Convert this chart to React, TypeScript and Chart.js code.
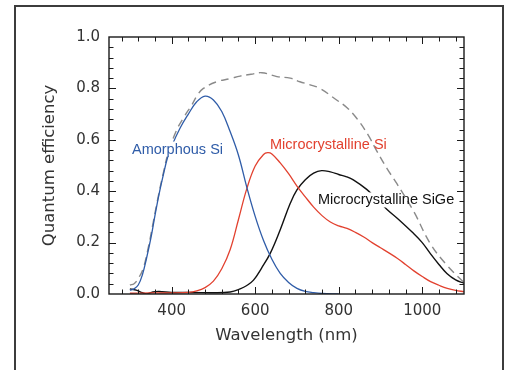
import React, { useEffect, useRef } from "react";
import { Chart, registerables } from "chart.js";

Chart.register(...registerables);

// ---- data ----
const amorphousNm = [300, 310, 320, 330, 340, 350, 360, 370, 380, 390, 400, 420, 440, 460, 480, 500, 520, 540, 560, 580, 600, 620, 640, 660, 680, 700, 720, 740, 760, 800];
const amorphousQE = [0.015, 0.02, 0.035, 0.075, 0.14, 0.215, 0.305, 0.39, 0.463, 0.53, 0.575, 0.645, 0.7, 0.748, 0.77, 0.755, 0.71, 0.632, 0.54, 0.415, 0.302, 0.208, 0.135, 0.08, 0.045, 0.022, 0.01, 0.005, 0.002, 0.0];

const ucSiNm = [300, 350, 400, 440, 460, 480, 500, 520, 540, 560, 580, 600, 620, 630, 640, 660, 680, 700, 720, 740, 760, 780, 800, 820, 840, 860, 880, 900, 920, 940, 960, 980, 1000, 1020, 1040, 1060, 1080, 1100];
const ucSiQE = [0.003, 0.004, 0.004, 0.006, 0.012, 0.025, 0.05, 0.098, 0.172, 0.29, 0.41, 0.498, 0.543, 0.55, 0.545, 0.51, 0.468, 0.42, 0.378, 0.338, 0.305, 0.28, 0.265, 0.255, 0.24, 0.222, 0.2, 0.18, 0.16, 0.139, 0.115, 0.09, 0.068, 0.048, 0.034, 0.022, 0.014, 0.009];

const ucSiGeNm = [300, 315, 330, 340, 355, 370, 400, 450, 500, 540, 564, 580, 596, 615, 636, 660, 684, 700, 720, 740, 759, 780, 800, 819, 835, 867, 890, 915, 940, 979, 1000, 1019, 1040, 1059, 1080, 1100];
const ucSiGeQE = [0.02, 0.015, 0.005, 0.0, 0.008, 0.01, 0.006, 0.006, 0.005, 0.008, 0.02, 0.033, 0.054, 0.1, 0.158, 0.25, 0.353, 0.405, 0.445, 0.47, 0.48, 0.475, 0.465, 0.456, 0.444, 0.407, 0.37, 0.33, 0.295, 0.236, 0.2, 0.158, 0.115, 0.08, 0.055, 0.042];

const totalNm = [300, 310, 320, 332, 344, 356, 368, 380, 392, 412, 430, 448, 462, 476, 508, 540, 564, 590, 616, 652, 684, 707, 730, 755, 795, 820, 843, 870, 890, 915, 939, 980, 1019, 1060, 1100];
const totalQE = [0.035, 0.04, 0.06, 0.1, 0.18, 0.28, 0.38, 0.47, 0.55, 0.638, 0.69, 0.735, 0.775, 0.80, 0.826, 0.838, 0.848, 0.855, 0.861, 0.846, 0.84, 0.826, 0.815, 0.80, 0.755, 0.725, 0.684, 0.62, 0.56, 0.49, 0.43, 0.32, 0.197, 0.11, 0.045];

const seriesNames = ["Amorphous Si", "Microcrystalline Si", "Total", "Microcrystalline SiGe"];

const xTickValues = [400, 600, 800, 1000];
const yTickValues = [0, 0.2, 0.4, 0.6, 0.8, 1.0];
const xTitle = "Wavelength (nm)";
const yTitle = "Quantum efficiency";

// ---- styling / layout ----
const W = 509;
const H = 370;
const BLUE = "#2f5ca8";
const RED = "#e2412f";
const BLACK = "#111111";
const GRAY = "#8a8a8a";
const TEXT = "#333333";

// label anchors (left edge, vertical centre) in data units
const labelAnchors = [
  { name: 0, x: 305, y: 0.564, color: BLUE, box: "top" },
  { name: 1, x: 635.5, y: 0.58, color: RED, box: "none" },
  { name: 3, x: 750.5, y: 0.366, color: BLACK, box: "afterBlack" },
];
const LABEL_FONT = "14.5px 'Liberation Sans', Arial, sans-serif";

function pts(xs: number[], ys: number[]) {
  return xs.map((x, i) => ({ x, y: ys[i] }));
}

function drawLabel(chart: any, a: any, withBox: boolean, withText: boolean) {
  const ctx = chart.ctx;
  const xs = chart.scales.x;
  const ys = chart.scales.y;
  const px = xs.getPixelForValue(a.x);
  const py = ys.getPixelForValue(a.y);
  const text = seriesNames[a.name];
  ctx.save();
  ctx.font = LABEL_FONT;
  const w = ctx.measureText(text).width;
  if (withBox) {
    ctx.fillStyle = "#ffffff";
    ctx.fillRect(px - 1, py - 7.5, w + 2, 15);
  }
  if (withText) {
    ctx.fillStyle = a.color;
    ctx.textBaseline = "middle";
    ctx.textAlign = "left";
    ctx.fillText(text, px, py + 0.5);
  }
  ctx.restore();
}

const decorPlugin = {
  id: "decor",
  beforeDraw(chart: any) {
    const ctx = chart.ctx;
    ctx.save();
    ctx.fillStyle = "#ffffff";
    ctx.fillRect(0, 0, W, H);
    ctx.strokeStyle = "#3c3c3c";
    ctx.lineWidth = 2;
    ctx.strokeRect(15, 6, 488, 420);
    ctx.restore();
  },
  afterDatasetDraw(chart: any, args: any) {
    if (args.index === 3) {
      const a = labelAnchors.find((l) => l.box === "afterBlack");
      if (a) drawLabel(chart, a, true, false);
    }
  },
  afterDatasetsDraw(chart: any) {
    for (const a of labelAnchors) {
      drawLabel(chart, a, a.box === "top", true);
    }
  },
  afterDraw(chart: any) {
    const ctx = chart.ctx;
    const { left, right, top, bottom } = chart.chartArea;
    const xs = chart.scales.x;
    const ys = chart.scales.y;
    ctx.save();
    ctx.strokeStyle = "#1a1a1a";
    ctx.lineWidth = 1;
    const MAJ = 7;
    const MIN = 4.5;
    // x ticks (every 40 nm, major every 200 nm)
    for (let v = 280; v < 1100; v += 40) {
      const p = Math.round(xs.getPixelForValue(v)) + 0.5;
      const len = xTickValues.includes(v) ? MAJ : MIN;
      ctx.beginPath();
      ctx.moveTo(p, bottom);
      ctx.lineTo(p, bottom - len);
      ctx.moveTo(p, top);
      ctx.lineTo(p, top + len);
      ctx.stroke();
    }
    // y ticks (every 0.04, major every 0.2)
    for (let k = 1; k < 25; k++) {
      const v = k * 0.04;
      const p = Math.round(ys.getPixelForValue(v)) + 0.5;
      const len = k % 5 === 0 ? MAJ : MIN;
      ctx.beginPath();
      ctx.moveTo(left, p);
      ctx.lineTo(left + len, p);
      ctx.moveTo(right, p);
      ctx.lineTo(right - len, p);
      ctx.stroke();
    }
    ctx.lineWidth = 1.4;
    ctx.strokeRect(left, top, right - left, bottom - top);
    ctx.restore();
  },
};

export default function App() {
  const ref = useRef<HTMLCanvasElement | null>(null);

  useEffect(() => {
    if (!ref.current) return;
    const tickFont = { family: "'DejaVu Sans', sans-serif", size: 15 };
    const titleFont = { family: "'DejaVu Sans', sans-serif", size: 16.5 };
    const line = (label: string, data: any, color: string, width: number, dash: number[] = []) => ({
      label,
      data,
      borderColor: color,
      borderWidth: width,
      borderDash: dash,
      pointRadius: 0,
      tension: 0.4,
      fill: false,
    });
    const chart = new Chart(ref.current, {
      type: "line",
      data: {
        datasets: [
          line(seriesNames[0], pts(amorphousNm, amorphousQE), BLUE, 1.3),
          line(seriesNames[1], pts(ucSiNm, ucSiQE), RED, 1.3),
          line(seriesNames[2], pts(totalNm, totalQE), GRAY, 1.4, [8, 5]),
          line(seriesNames[3], pts(ucSiGeNm, ucSiGeQE), BLACK, 1.4),
        ],
      },
      options: {
        animation: false,
        responsive: false,
        devicePixelRatio: 1,
        layout: { padding: { left: 0, right: 45, top: 37, bottom: 0 } },
        plugins: {
          legend: { display: false },
          tooltip: { enabled: false },
        },
        scales: {
          x: {
            type: "linear",
            min: 250,
            max: 1100,
            afterBuildTicks: (s: any) => {
              s.ticks = xTickValues.map((v) => ({ value: v }));
            },
            afterFit: (s: any) => {
              s.height = 76;
            },
            grid: { display: false, drawTicks: false },
            border: { display: false },
            ticks: {
              padding: 8,
              font: tickFont,
              color: TEXT,
              maxRotation: 0,
              autoSkip: false,
              callback: (v: any) => String(v),
            },
            title: {
              display: true,
              text: xTitle,
              font: titleFont,
              color: TEXT,
              padding: { top: 0, bottom: 24 },
            },
          },
          y: {
            type: "linear",
            min: 0,
            max: 1,
            afterBuildTicks: (s: any) => {
              s.ticks = yTickValues.map((v) => ({ value: v }));
            },
            afterFit: (s: any) => {
              s.width = 109;
            },
            grid: { display: false, drawTicks: false },
            border: { display: false },
            ticks: {
              padding: 9,
              font: tickFont,
              color: TEXT,
              autoSkip: false,
              callback: (v: any) => Number(v).toFixed(1),
            },
            title: {
              display: true,
              text: yTitle,
              font: titleFont,
              color: TEXT,
              padding: { top: 40, bottom: 0 },
            },
          },
        },
      },
      plugins: [decorPlugin],
    } as any);
    return () => chart.destroy();
  }, []);

  return (
    <div style={{ position: "absolute", left: 0, top: 0, width: W, height: H }}>
      <canvas ref={ref} width={W} height={H} style={{ width: W, height: H, display: "block" }} />
    </div>
  );
}
